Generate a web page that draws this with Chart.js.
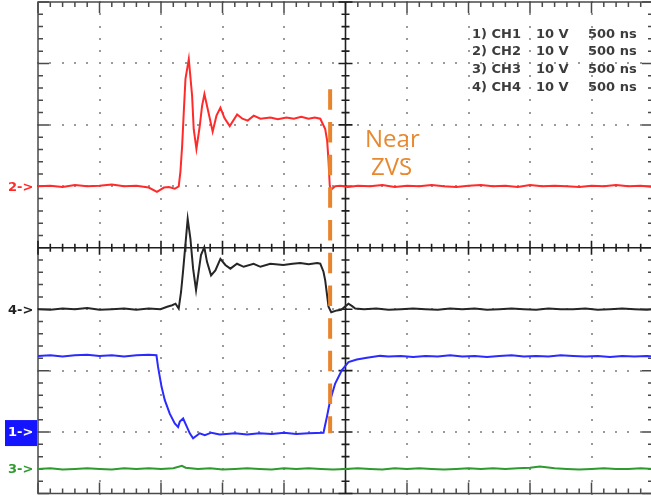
<!DOCTYPE html>
<html><head><meta charset="utf-8">
<script src="https://cdn.jsdelivr.net/npm/chart.js@4.4.1/dist/chart.umd.min.js"></script>
<style>
html,body{margin:0;padding:0;background:#fff;overflow:hidden;width:651px;height:498px}
canvas{display:block}
</style></head>
<body><canvas id="c" width="654" height="498"></canvas>
<script>
// ---- axes: time in ns (500 ns/div), vertical in screen divisions (10 V/div) ----
const timeMin = -2500, timeMax = 2500, timePerDiv = 500;
const divMin = -4, divMax = 4;
const voltsPerDiv = 10;

// ---- channel read-out (top right) ----
const chNames = ['1) CH1', '2) CH2', '3) CH3', '4) CH4'];
const chScales = ['10 V', '10 V', '10 V', '10 V'];
const chTimebase = ['500 ns', '500 ns', '500 ns', '500 ns'];

// ---- channel reference markers (divisions from centre) ----
const markerLabels = ['2->', '4->', '1->', '3->'];
const ch2Ref = 1, ch4Ref = -1, ch1Ref = -3, ch3Ref = -3.6;

// ---- CH2 (red) ----
const ch2Time = [-2500,-2400,-2300,-2200,-2100,-2000,-1900,-1800,-1700,-1600,
  -1533,-1476,-1436,-1388,-1356,-1342,-1328,-1315,-1301,-1274,
  -1247,-1234,-1212,-1185,-1166,-1147,-1114,-1080,-1049,-1017,
  -984,-941,-881,-838,-795,-746,-692,-611,-550,-480,
  -420,-360,-300,-250,-205,-165,-149,-138,-128,-120,
  -84,-40,20,100,200,300,400,500,600,700,800,900,1000,1100,1200,1300,1400,1500,1600,1700,1800,1900,2000,2100,2200,2300,2400,2500];
const ch2Volts = [0.0,0.1,-0.1,0.2,0.0,0.1,0.3,0.0,0.1,-0.2,
  -0.9,-0.2,-0.1,-0.4,0.0,2.4,6.6,12.0,17.5,20.7,
  14.7,9.3,6.1,9.8,13.1,15.0,12.0,8.9,11.5,12.8,
  11.1,9.8,11.7,11.0,10.7,11.5,11.0,11.2,10.9,11.2,
  11.0,11.3,11.0,11.2,11.0,9.3,7.4,4.1,0.1,-0.6,
  0.0,0.1,-0.1,0.1,0.0,0.2,-0.1,0.1,0.0,0.2,0.0,-0.1,0.1,0.2,0.0,0.1,-0.1,0.2,0.0,0.1,0.0,-0.1,0.1,0.0,0.2,0.0,0.1,-0.1];

// ---- CH4 (black) ----
const ch4Time = [-2500,-2400,-2300,-2200,-2100,-2000,-1900,-1800,-1700,-1600,
  -1504,-1450,-1409,-1382,-1356,-1337,-1321,-1302,-1283,-1261,
  -1239,-1215,-1194,-1175,-1148,-1126,-1093,-1058,-1017,-977,
  -936,-882,-828,-747,-692,-611,-506,-430,-368,-300,
  -230,-205,-179,-165,-138,-116,-70,-35,24,54,79,
  150,250,350,450,550,650,750,850,950,1050,1150,1250,1350,1450,1550,1650,1750,1850,1950,2050,2150,2250,2350,2450,2500];
const ch4Volts = [0.0,-0.1,0.1,0.0,0.2,-0.1,0.0,0.1,-0.1,0.1,
  0.0,0.4,0.65,0.9,0.1,2.8,6.1,10.4,14.7,11.5,
  6.6,3.1,6.1,8.8,10.1,7.7,5.5,6.3,8.2,7.2,
  6.6,7.4,6.9,7.4,6.9,7.4,7.2,7.4,7.5,7.3,
  7.5,7.4,6.1,4.7,0.4,-0.5,-0.2,-0.1,0.9,0.5,0.1,
  0.0,0.1,-0.1,0.0,0.1,0.0,-0.1,0.1,0.0,0.1,-0.1,0.0,0.1,0.0,-0.1,0.1,0.0,0.0,0.1,-0.1,0.0,0.1,0.0,-0.1,0.0];

// ---- CH1 (blue) ----
const ch1Time = [-2500,-2400,-2300,-2200,-2100,-2000,-1900,-1800,-1700,-1600,
  -1537,-1524,-1496,-1469,-1429,-1388,-1361,-1347,-1320,-1293,
  -1266,-1239,-1185,-1144,-1090,-1023,-969,-900,-800,-700,
  -600,-500,-400,-300,-179,-151,-124,-84,-29,24,
  92,174,282,350,450,550,650,750,850,950,1050,1150,1250,1350,1450,1550,1650,1750,1850,1950,2050,2150,2250,2350,2450,2500];
const ch1Volts = [12.4,12.5,12.3,12.5,12.6,12.4,12.5,12.3,12.5,12.6,
  12.5,10.6,7.4,5.2,3.0,1.4,0.8,1.7,2.2,1.0,
  -0.2,-1.0,-0.2,-0.5,-0.1,-0.4,-0.3,-0.2,-0.4,-0.2,
  -0.3,-0.1,-0.3,-0.2,-0.1,2.5,5.2,7.9,10.1,11.4,
  11.8,12.1,12.4,12.3,12.4,12.2,12.4,12.3,12.5,12.3,12.4,12.2,12.4,12.5,12.3,12.4,12.3,12.5,12.4,12.3,12.4,12.2,12.4,12.3,12.4,12.3];

// ---- CH3 (green) ----
const ch3Time = [-2500,-2400,-2300,-2200,-2100,-2000,-1900,-1800,-1700,-1600,-1500,-1400,-1330,-1300,-1200,-1100,-1000,-900,-800,-700,-600,-500,-400,-300,-200,-100,0,100,200,300,400,500,600,700,800,900,1000,1100,1200,1300,1400,1500,1580,1700,1800,1900,2000,2100,2200,2300,2400,2500];
const ch3Volts = [0.0,0.1,-0.1,0.0,0.1,0.0,-0.1,0.1,0.0,0.1,0.0,0.1,0.5,0.2,0.0,0.1,-0.1,0.0,0.1,0.0,-0.1,0.1,0.0,0.1,0.0,-0.1,0.0,0.1,0.0,-0.1,0.1,0.0,0.1,0.0,-0.1,0.0,0.1,0.0,0.1,0.0,0.1,0.2,0.4,0.1,0.0,-0.1,0.0,0.1,0.0,0.0,0.1,0.0];

// ---- "Near ZVS" marker line (time, divisions) ----
const zvsTime = [-125, -125];
const zvsDiv = [2.58, -3.02];

function toPoints(times, volts, ref) {
  return times.map((t, i) => ({ x: t, y: ref + volts[i] / voltsPerDiv }));
}

const scopeGrid = {
  id: 'scopeGrid',
  beforeDatasetsDraw(chart) {
    const { ctx, chartArea: a, scales: { x, y } } = chart;
    ctx.save();
    // dotted graticule
    ctx.fillStyle = '#9a9a9a';
    for (let t = timeMin + timePerDiv; t < timeMax; t += timePerDiv) {
      if (t === 0) continue;
      const px = x.getPixelForValue(t);
      for (let d = divMin; d <= divMax + 1e-6; d += 0.2) {
        const py = y.getPixelForValue(d);
        ctx.fillRect(Math.round(px) - 1, Math.round(py) - 1, 2, 2);
      }
    }
    for (let d = divMin + 1; d < divMax; d += 1) {
      if (d === 0) continue;
      const py = y.getPixelForValue(d);
      for (let t = timeMin; t <= timeMax; t += timePerDiv / 5) {
        const px = x.getPixelForValue(t);
        ctx.fillRect(Math.round(px) - 1, Math.round(py) - 1, 2, 2);
      }
    }
    // border
    ctx.strokeStyle = '#4a4a4a';
    ctx.lineWidth = 1.5;
    ctx.strokeRect(a.left, a.top, a.right - a.left, a.bottom - a.top);
    ctx.lineWidth = 1.5;
    ctx.beginPath();
    for (let i = 0; i <= 40; i++) {
      const d = divMin + i * 0.2;
      const py = y.getPixelForValue(d);
      const len = (i % 5 === 0) ? 11 : 5;
      ctx.moveTo(a.left, py); ctx.lineTo(a.left + len, py);
      ctx.moveTo(a.right, py); ctx.lineTo(a.right - len, py);
    }
    for (let i = 0; i <= 50; i++) {
      const t = timeMin + i * timePerDiv / 5;
      const px = x.getPixelForValue(t);
      const len = (i % 5 === 0) ? 11 : 5;
      ctx.moveTo(px, a.top); ctx.lineTo(px, a.top + len);
      ctx.moveTo(px, a.bottom); ctx.lineTo(px, a.bottom - len);
    }
    ctx.stroke();
    // centre axes
    const cx = x.getPixelForValue(0), cy = y.getPixelForValue(0);
    ctx.strokeStyle = '#1e1e1e';
    ctx.lineWidth = 1.6;
    ctx.beginPath();
    ctx.moveTo(a.left, cy); ctx.lineTo(a.right, cy);
    ctx.moveTo(cx, a.top); ctx.lineTo(cx, a.bottom);
    for (let i = 0; i <= 50; i++) {
      const t = timeMin + i * timePerDiv / 5;
      const px = x.getPixelForValue(t);
      const len = (i % 5 === 0) ? 7 : 4;
      ctx.moveTo(px, cy - len); ctx.lineTo(px, cy + len);
    }
    for (let i = 0; i <= 40; i++) {
      const d = divMin + i * 0.2;
      const py = y.getPixelForValue(d);
      const len = (i % 5 === 0) ? 7 : 4;
      ctx.moveTo(cx - len, py); ctx.lineTo(cx + len, py);
    }
    ctx.stroke();
    ctx.restore();
  },
  afterDraw(chart) {
    const { ctx, scales: { x, y } } = chart;
    ctx.save();
    // read-out
    ctx.fillStyle = '#3c3c3c';
    ctx.font = 'bold 13px "DejaVu Sans"';
    ctx.textBaseline = 'alphabetic';
    ctx.textAlign = 'left';
    for (let i = 0; i < chNames.length; i++) {
      const by = 37.5 + i * 17.7;
      ctx.fillText(chNames[i], 472, by);
      ctx.fillText(chScales[i], 536, by);
      ctx.fillText(chTimebase[i], 588, by);
    }
    // channel markers
    const refs = [ch2Ref, ch4Ref, ch1Ref, ch3Ref];
    const cols = ['#ff2a2a', '#222222', '#ffffff', '#2f9a2f'];
    ctx.textBaseline = 'middle';
    for (let i = 0; i < markerLabels.length; i++) {
      const py = y.getPixelForValue(refs[i]);
      if (i === 2) {
        ctx.fillStyle = '#1414ff';
        ctx.fillRect(5, py - 12, 32, 26);
      }
      ctx.fillStyle = cols[i];
      ctx.fillText(markerLabels[i], 8, py + 1);
    }
    // annotation text
    ctx.fillStyle = '#e8892f';
    ctx.font = '24px "Open Sans"';
    ctx.textBaseline = 'alphabetic';
    ctx.fillText('Near', 365, 147);
    ctx.fillText('ZVS', 371, 175);
    ctx.restore();
  }
};

new Chart(document.getElementById('c'), {
  type: 'line',
  data: {
    datasets: [
      { data: zvsTime.map((t, i) => ({ x: t, y: zvsDiv[i] })), borderColor: '#e8842c', borderWidth: 4, borderDash: [20.5, 12.2], order: -1 },
      { data: toPoints(ch2Time, ch2Volts, ch2Ref), borderColor: '#ff2a2a' },
      { data: toPoints(ch4Time, ch4Volts, ch4Ref), borderColor: '#262626' },
      { data: toPoints(ch1Time, ch1Volts, ch1Ref), borderColor: '#2b2bff' },
      { data: toPoints(ch3Time, ch3Volts, ch3Ref), borderColor: '#2f9a2f' }
    ]
  },
  options: {
    responsive: false,
    animation: false,
    parsing: true,
    layout: { padding: { left: 38, right: 1, top: 2, bottom: 4.5 } },
    elements: { point: { radius: 0 }, line: { borderWidth: 2, tension: 0 } },
    plugins: { legend: { display: false }, tooltip: { enabled: false } },
    scales: {
      x: { type: 'linear', min: timeMin, max: timeMax, display: false },
      y: { type: 'linear', min: divMin, max: divMax, display: false }
    }
  },
  plugins: [scopeGrid]
});
</script>
</body></html>
